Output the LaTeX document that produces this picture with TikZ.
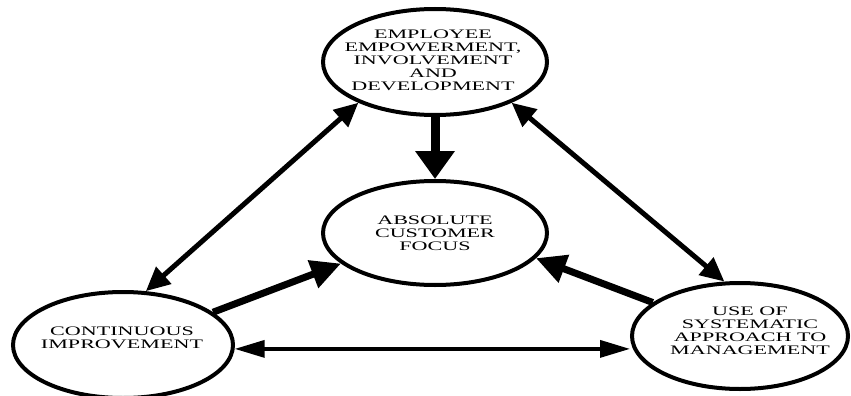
\documentclass[tikz,border=0pt]{standalone}
\usepackage{fontspec}
\setmainfont{Liberation Serif}
\usepackage{graphicx}
\usetikzlibrary{shapes.geometric,arrows.meta}
% widened capitals, one line per row
\newcommand\widecaps[1]{\scalebox{1.7}[1]{\begin{tabular}{@{}c@{}}#1\end{tabular}}}
\begin{document}
\begin{tikzpicture}[x=1pt,y=-1pt,
  blob/.style={ellipse,draw,line width=4pt,inner sep=0pt},
  caption/.style={inner sep=0pt,font=\fontsize{13}{13}\selectfont},
  twoway/.style={line width=5pt,
    {Triangle[length=24pt,width=22pt]}-{Triangle[length=24pt,width=22pt]}},
  flat/.style={line width=3.5pt,
    {Triangle[length=30pt,width=17pt]}-{Triangle[length=30pt,width=17pt]}},
  feed/.style={line width=7pt,-{Triangle[length=30pt,width=28pt]}},
  main/.style={line width=9pt,-{Triangle[length=28pt,width=38pt]}}]
\useasboundingbox (0,0) rectangle (851,396);

% the four ellipses
\node[blob,minimum width=224pt,minimum height=106pt] (top)   at (435,62)  {};
\node[blob,minimum width=224pt,minimum height=104pt] (mid)   at (435,233) {};
\node[blob,minimum width=220pt,minimum height=106pt] (left)  at (123,345) {};
\node[blob,minimum width=216pt,minimum height=106pt] (right) at (740,336) {};

% their texts
\node[caption] (topT) at (433,62)
  {\widecaps{EMPLOYEE\\EMPOWERMENT,\\INVOLVEMENT\\AND\\DEVELOPMENT}};
\node[caption] (midT) at (435,234.5)
  {\widecaps{ABSOLUTE\\CUSTOMER\\FOCUS}};
\node[caption] (leftT) at (122,339.5)
  {\widecaps{CONTINUOUS\\IMPROVEMENT}};
\node[caption] (rightT) at (750,332.5)
  {\widecaps{USE OF\\SYSTEMATIC\\APPROACH TO\\MANAGEMENT}};

% connectors
\draw[main] (top.south) -- (mid.north);
\draw[twoway] (left.67) -- (top.208);
\draw[twoway] (top.332) -- (right.106);
\draw[feed] (left.20) -- (mid.198);
\draw[feed] (right.159) -- (mid.346);
\draw[flat] (left.-2) -- (left.-2 -| right.west);
\end{tikzpicture}
\end{document}
